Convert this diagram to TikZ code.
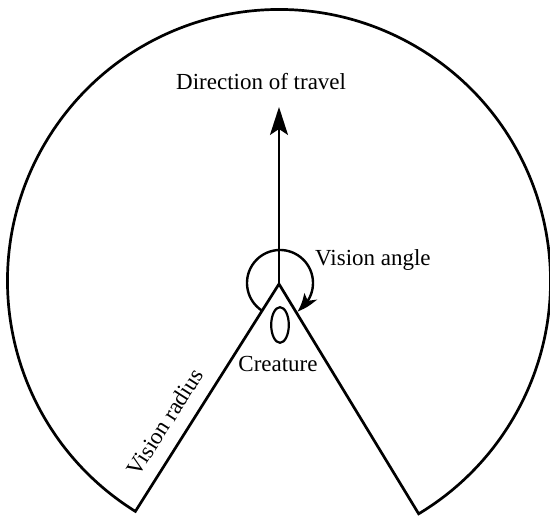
\documentclass[tikz,border=0pt]{standalone}
\usepackage{fontspec}
\setmainfont{Liberation Serif}
\usetikzlibrary{arrows.meta,bending}
\begin{document}
\begin{tikzpicture}[x=1pt,y=1pt,
  outline/.style={line width=2.7pt, line join=miter},
  lbl/.style={font=\fontsize{23}{27}\selectfont, inner sep=0pt}]
\useasboundingbox (0,0) rectangle (550,518);
\fill[white] (0,0) rectangle (550,518);
% geometry
\coordinate (C) at (279,237);
\coordinate (A) at (279,234);
\coordinate (BL) at ([shift={(279,237)}]238.06:271.5);
\coordinate (T) at (279,411);
% field of view
\draw[outline] (A) -- (BL) arc[start angle=238.06, end angle=-59.04, radius=271.5] -- (A);
% direction of travel
\draw[line width=2pt, -{Stealth[length=28pt,width=18pt,inset=6pt]}] (A) -- (T);
% vision angle loop
\draw[line width=2.4pt, -{Stealth[length=20pt,width=14pt,inset=5pt,bend]}]
  ([shift={(280,235)}]237.6:33) arc[start angle=237.6, end angle=-58.6, radius=33];
% creature
\draw[line width=2.2pt] (280,193) ellipse[x radius=8.8, y radius=17.8];
% labels
\node[lbl, anchor=base west] (dir) at (176,428) {Direction of travel};
\node[lbl, anchor=base west] (ang) at (315,252) {Vision angle};
\node[lbl, anchor=base] (cre) at (278,146) {Creature};
\node[lbl, rotate=57.4] (rad) at (165,96) {Vision radius};
\end{tikzpicture}
\end{document}
